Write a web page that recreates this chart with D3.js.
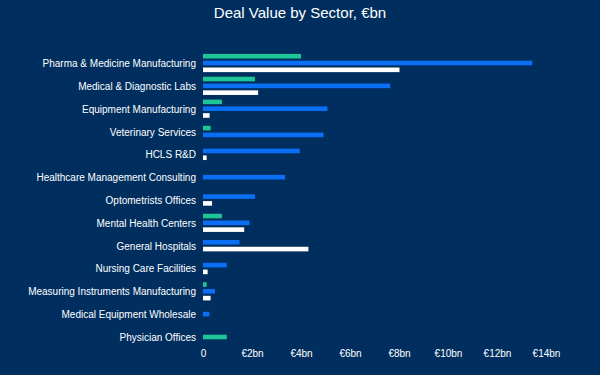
<!DOCTYPE html>
<html><head><meta charset="utf-8">
<script src="https://cdn.jsdelivr.net/npm/d3@7"></script>
<style>
html,body{margin:0;padding:0;background:#002f5f;}
svg{display:block;font-family:"Liberation Sans",Arial,sans-serif;}
</style></head><body>
<svg id="chart" width="600" height="375"></svg>
<script>
const categories = ["Pharma & Medicine Manufacturing","Medical & Diagnostic Labs","Equipment Manufacturing","Veterinary Services","HCLS R&D","Healthcare Management Consulting","Optometrists Offices","Mental Health Centers","General Hospitals","Nursing Care Facilities","Measuring Instruments Manufacturing","Medical Equipment Wholesale","Physician Offices"];
const seriesGreen = [4.0, 2.12, 0.77, 0.31, null, null, null, 0.77, null, null, 0.15, null, 0.97];
const seriesBlue  = [13.44, 7.64, 5.08, 4.92, 3.95, 3.35, 2.12, 1.9, 1.49, 0.97, 0.49, 0.26, null];
const seriesWhite = [8.02, 2.25, 0.27, null, 0.15, null, 0.37, 1.68, 4.3, 0.19, 0.31, null, null];
const tickValues = [0, 2, 4, 6, 8, 10, 12, 14];
const tickLabels = ["0", "€2bn", "€4bn", "€6bn", "€8bn", "€10bn", "€12bn", "€14bn"];
const seriesColors = ["#1ec596", "#0a6ff5", "#ffffff"];

const svg = d3.select("#chart");
svg.append("rect").attr("width",600).attr("height",375).attr("fill","#002f5f");

svg.append("text").attr("x",300).attr("y",18).attr("text-anchor","middle")
  .attr("fill","#fff").attr("font-size",15).text("Deal Value by Sector, €bn");

const x = d3.scaleLinear().domain([0,14]).range([203, 546]);
const y = d3.scaleBand().domain(categories).range([51.6, 348.4]);

const series = [seriesGreen, seriesBlue, seriesWhite];
const step = 6.8, bh = 4.6;

const g = svg.append("g");
categories.forEach((c, i) => {
  const present = series.map((s, k) => ({v: s[i], k})).filter(d => d.v != null);
  const cy = y(c) + y.bandwidth()/2;
  const n = present.length;
  present.forEach((d, j) => {
    const yc = cy + (j - (n-1)/2) * step;
    g.append("rect")
      .attr("x", x(0)).attr("y", yc - bh/2)
      .attr("width", Math.max(0, x(d.v) - x(0))).attr("height", bh)
      .attr("fill", seriesColors[d.k]);
  });
});

// category labels
const yAxis = d3.axisLeft(y).tickSize(0).tickPadding(0);
const ya = svg.append("g").attr("transform","translate(196,0.8)").call(yAxis);
ya.select(".domain").remove();
ya.selectAll("text").attr("fill","#fff").attr("font-size",10).attr("font-family","Liberation Sans, Arial, sans-serif");

// x axis
const xAxis = d3.axisBottom(x).tickValues(tickValues).tickSize(0).tickPadding(0)
  .tickFormat((d,i) => tickLabels[i]);
const xa = svg.append("g").attr("transform","translate(0,350)").call(xAxis);
xa.select(".domain").remove();
xa.selectAll("text").attr("fill","#fff").attr("font-size",10).attr("font-family","Liberation Sans, Arial, sans-serif");
</script>
</body></html>
